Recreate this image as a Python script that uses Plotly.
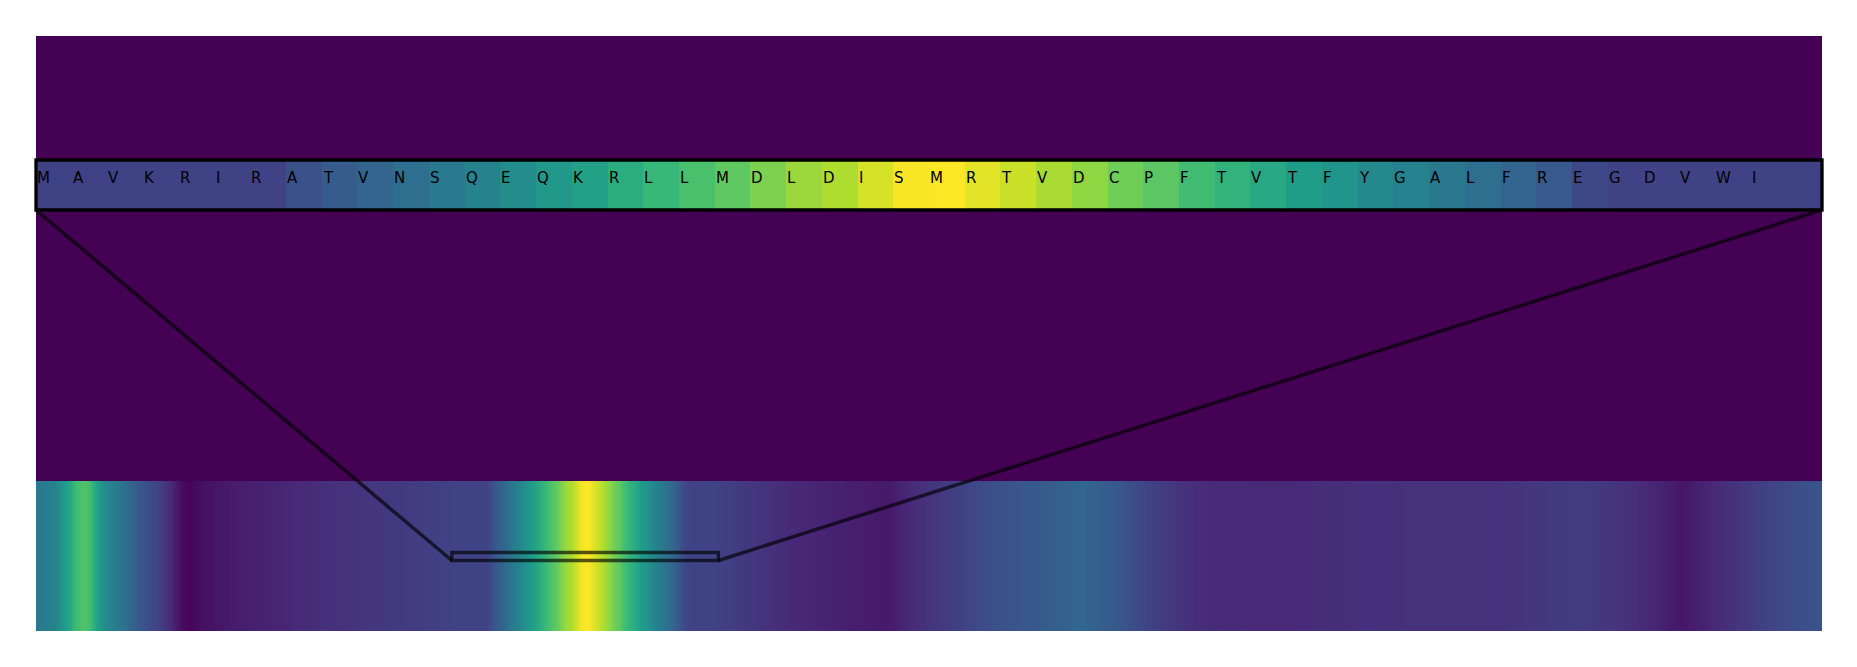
import plotly.graph_objects as go

# ---------------- data ----------------
letters = ["M", "A", "V", "K", "R", "I", "R", "A", "T", "V",
           "N", "S", "Q", "E", "Q", "K", "R", "L", "L", "M",
           "D", "L", "D", "I", "S", "M", "R", "T", "V", "D",
           "C", "P", "F", "T", "V", "T", "F", "Y", "G", "A",
           "L", "F", "R", "E", "G", "D", "V", "W", "I", ""]

top_vals = [0.20, 0.20, 0.20, 0.20, 0.20, 0.20, 0.20, 0.25, 0.29, 0.32,
            0.36, 0.41, 0.45, 0.49, 0.53, 0.57, 0.62, 0.67, 0.71, 0.75,
            0.80, 0.85, 0.88, 0.94, 0.99, 1.00, 0.96, 0.92, 0.87, 0.83,
            0.78, 0.74, 0.69, 0.65, 0.60, 0.55, 0.52, 0.47, 0.44, 0.40,
            0.36, 0.32, 0.28, 0.22, 0.20, 0.20, 0.20, 0.20, 0.20, 0.20]

seq_length = 335
window_start = 78
window_len = 50

# full-sequence profile outside the zoomed window (residue position, value)
left_pos = [0, 3.6, 6.4, 7.2, 7.9, 8.8, 9.8, 10.5, 11.4, 12.9, 15.6, 19.1,
            22.9, 25.1, 27.4, 28.9, 30.8, 37.7, 45.2, 52.5, 60.0, 67.4, 74.9]
left_vals = [0.40, 0.45, 0.60, 0.67, 0.70, 0.72, 0.71, 0.66, 0.57, 0.48, 0.40, 0.28,
             0.20, 0.12, 0.03, 0.01, 0.04, 0.08, 0.10, 0.13, 0.15, 0.17, 0.19]

right_pos = [129.0, 135.5, 143.0, 150.3, 160.0, 165.0, 172.6, 179.9, 187.4, 196.2,
             202.3, 209.6, 217.1, 222.1, 234.1, 242.0, 257.6, 273.4, 289.1, 297.0,
             304.9, 308.8, 316.7, 324.6, 332.3, 335.0]
right_vals = [0.19, 0.15, 0.11, 0.09, 0.07, 0.13, 0.19, 0.25, 0.28, 0.33,
              0.28, 0.19, 0.13, 0.12, 0.11, 0.13, 0.14, 0.14, 0.18, 0.15,
              0.09, 0.06, 0.13, 0.20, 0.25, 0.26]

# zoom-box position inside the bottom strip (fraction of its height)
box_y0 = 0.47
box_y1 = 0.523

# ---------------- figure ----------------
W, H = 1857, 667
ml, mr, mt, mb = 36, 35, 36, 36
bottom_top = 0.2521          # top of bottom strip (paper)
strip_lo, strip_hi = 0.7076, 0.7916   # top strip domain (paper)
bg = "#440154"

win_pos = [window_start + i + 0.5 for i in range(window_len)]
bottom_pos = left_pos + win_pos + right_pos
bottom_vals = left_vals + top_vals + right_vals

fig = go.Figure()

fig.add_trace(go.Heatmap(
    x=bottom_pos, y=[0, 1], z=[bottom_vals, bottom_vals],
    colorscale="Viridis", zmin=0, zmax=1, zsmooth="best",
    showscale=False, hoverinfo="skip", xaxis="x", yaxis="y"))

fig.add_trace(go.Heatmap(
    x=list(range(window_len)), y=[0], z=[top_vals],
    colorscale="Viridis", zmin=0, zmax=1,
    showscale=False, hoverinfo="skip", xaxis="x2", yaxis="y2"))

annotations = []
for i, ch in enumerate(letters):
    if not ch:
        continue
    annotations.append(dict(
        x=i - 0.5, y=0, xref="x2", yref="y2", text=ch, showarrow=False,
        xanchor="left", yanchor="middle", yshift=7, borderpad=0,
        font=dict(family="DejaVu Sans", size=15, color="black")))

box_paper_y0 = box_y0 * bottom_top
line_col = "rgba(0,0,0,0.65)"
shapes = [
    # dark background of the whole axes area
    dict(type="rect", xref="paper", yref="paper", x0=0, x1=1, y0=0, y1=1,
         fillcolor=bg, line=dict(width=0), layer="below"),
    # zoom box in the full profile
    dict(type="rect", xref="x", yref="y", x0=window_start, x1=window_start + window_len,
         y0=box_y0, y1=box_y1, line=dict(color=line_col, width=3.5)),
    # connecting lines
    dict(type="line", xref="x", yref="paper", x0=0, x1=window_start,
         y0=strip_lo, y1=box_paper_y0, line=dict(color=line_col, width=3.5)),
    dict(type="line", xref="x", yref="paper", x0=seq_length, x1=window_start + window_len,
         y0=strip_lo, y1=box_paper_y0, line=dict(color=line_col, width=3.5)),
    # border of the zoomed strip
    dict(type="rect", xref="paper", yref="paper", x0=0, x1=1,
         y0=strip_lo, y1=strip_hi, line=dict(color="black", width=3.3)),
]

hidden = dict(visible=False, showgrid=False, zeroline=False, fixedrange=True)
fig.update_layout(
    width=W, height=H,
    margin=dict(l=ml, r=mr, t=mt, b=mb, pad=0),
    paper_bgcolor="white", plot_bgcolor=bg,
    xaxis=dict(domain=[0, 1], range=[0, seq_length], anchor="y", **hidden),
    yaxis=dict(domain=[0, bottom_top], range=[0, 1], anchor="x", **hidden),
    xaxis2=dict(domain=[0, 1], range=[-0.5, window_len - 0.5], anchor="y2", **hidden),
    yaxis2=dict(domain=[strip_lo, strip_hi], range=[-0.5, 0.5], anchor="x2", **hidden),
    annotations=annotations, shapes=shapes, showlegend=False,
)

fig.write_html("out.html")
